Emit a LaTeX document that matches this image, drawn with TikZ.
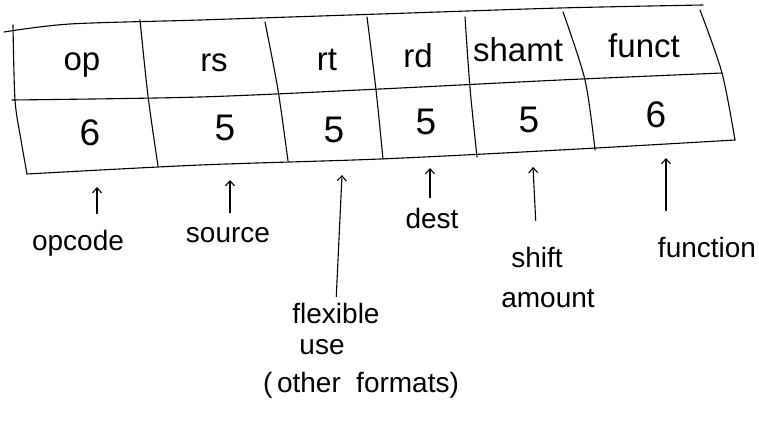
\documentclass[tikz,border=0pt]{standalone}
\usepackage{fontspec}
\setmainfont{Liberation Sans}
\usetikzlibrary{arrows.meta}
\begin{document}
\begin{tikzpicture}[x=1pt,y=-1pt,line cap=round,line join=round,
  pen/.style={draw=black,line width=1.1pt},
  head/.style={font=\fontsize{33}{35}\selectfont,anchor=base,inner sep=0pt},
  num/.style={font=\fontsize{37}{39}\selectfont,anchor=base,inner sep=0pt},
  lbl/.style={font=\fontsize{28}{30}\selectfont,anchor=base,inner sep=0pt},
  arr/.style={pen,-{Straight Barb[length=5pt,width=9pt]}}]
\useasboundingbox (0,0) rectangle (759,425);
% horizontal rules
\draw[pen] plot[smooth,tension=0.5] coordinates {(4,32) (70,24) (200,20) (380,14) (560,8) (703,5)};
\draw[pen] plot[smooth,tension=0.5] coordinates {(12,100) (200,97) (380,89) (560,80) (722,73)};
\draw[pen] plot[smooth,tension=0.5] coordinates {(27,174) (200,165) (380,159) (560,150) (735,140)};
% vertical rules
\draw[pen] plot[smooth,tension=0.5] coordinates {(13,25) (15,100) (21,140) (27,174)};
\draw[pen] plot[smooth,tension=0.5] coordinates {(140,20) (148,96) (158,166)};
\draw[pen] plot[smooth,tension=0.5] coordinates {(265,22) (278,90) (288,161)};
\draw[pen] plot[smooth,tension=0.5] coordinates {(367,17) (376,90) (383,159)};
\draw[pen] plot[smooth,tension=0.5] coordinates {(465,17) (470,88) (477,157)};
\draw[pen] plot[smooth,tension=0.5] coordinates {(563,12) (585,80) (595,150)};
\draw[pen] plot[smooth,tension=0.5] coordinates {(700,10) (722,73) (735,140)};
% field names
\node[head] (op) at (82,71) {op};
\node[head] (rs) at (214,72) {rs};
\node[head] (rt) at (327,71) {rt};
\node[head] (rd) at (418,68) {rd};
\node[head] (shamt) at (518,62) {shamt};
\node[head] (funct) at (644,58) {funct};
% widths
\node[num] (n1) at (90,145) {6};
\node[num] (n2) at (225,140) {5};
\node[num] (n3) at (334,142) {5};
\node[num] (n4) at (426,134) {5};
\node[num] (n5) at (529,132) {5};
\node[num] (n6) at (656,127) {6};
% labels
\node[lbl] (opcode) at (78,250) {opcode};
\node[lbl] (source) at (228,242) {source};
\node[lbl] (flexible) at (336,323) {flexible};
\node[lbl] (use) at (322,354) {use};
\node[lbl] (other) at (361,392) {(\,other\hspace{0.55em}formats)};
\node[lbl] (dest) at (432,228) {dest};
\node[lbl] (shift) at (537,267) {shift};
\node[lbl] (amount) at (548,307) {amount};
\node[lbl] (function) at (707,257) {function};
% arrow tips
\coordinate (opTip) at (97,187);
\coordinate (srcTip) at (230,180);
\coordinate (flexTip) at (342,175);
\coordinate (destTip) at (430,168);
\coordinate (shiftTip) at (533,167);
\coordinate (funcTip) at (666,158);
% arrows
\draw[arr,shorten <=16pt] (opcode.north -| opTip) -- (opTip);
\draw[arr,shorten <=14pt] (source.north -| srcTip) -- (srcTip);
\draw[arr,shorten <=6pt] (flexible.north) -- (flexTip);
\draw[arr,shorten <=10pt] (dest.north -| destTip) -- (destTip);
\draw[arr,shorten <=26pt] (shift.north) -- (shiftTip);
\draw[arr,shorten <=26pt] (function.north -| funcTip) -- (funcTip);
\end{tikzpicture}
\end{document}
